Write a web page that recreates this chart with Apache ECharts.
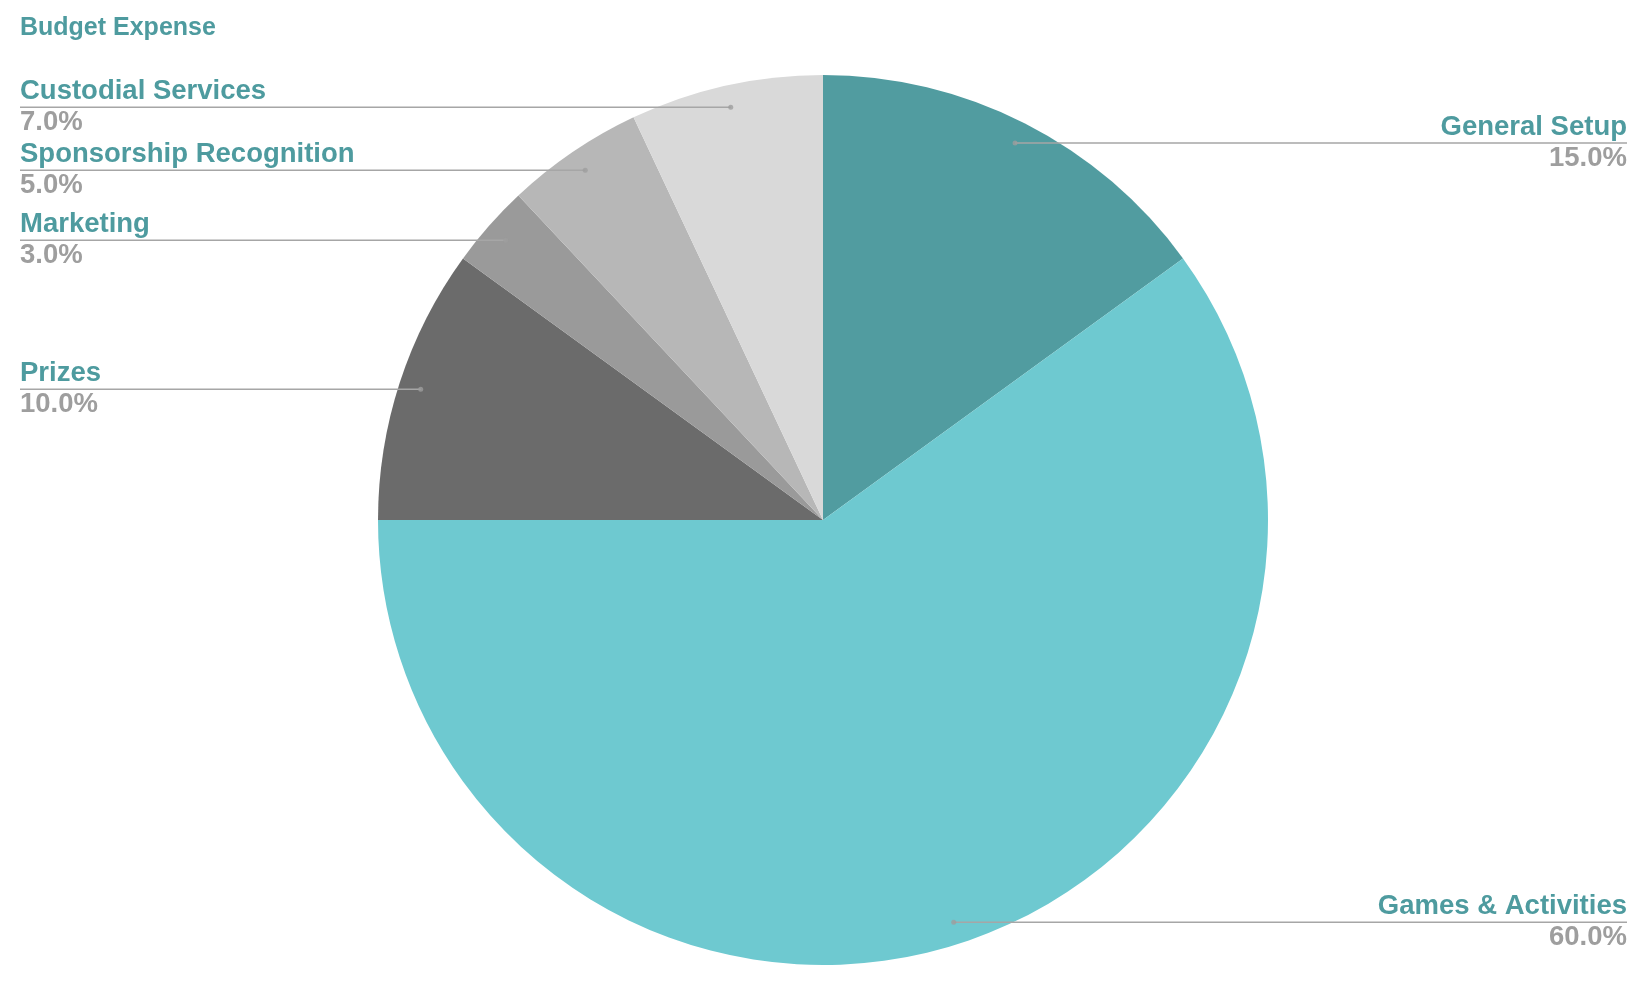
<!DOCTYPE html>
<html>
<head>
<meta charset="utf-8">
<script src="https://cdn.jsdelivr.net/npm/echarts@6/dist/echarts.min.js"></script>
<style>
html,body{margin:0;padding:0;background:#fff;}
#chart{width:1642px;height:988px;}
</style>
</head>
<body>
<div id="chart"></div>
<script>
// ---- data ----
const titleText = 'Budget Expense';
const categories = ['General Setup', 'Games & Activities', 'Prizes', 'Marketing', 'Sponsorship Recognition', 'Custodial Services'];
const values = [15, 60, 10, 3, 5, 7];
const palette = ['#519ca0', '#6ec9d0', '#6b6b6b', '#9a9a9a', '#b7b7b7', '#d9d9d9'];

const center = [823, 520];
const R = 445;
const labelR = 423;
const viewLeft = 20, viewRight = 15;

const pieData = categories.map((c, i) => ({ name: c, value: values[i], itemStyle: { color: palette[i] } }));
const total = values.reduce((a, b) => a + b, 0);
let cum = 0;
const dotData = values.map(v => { const mid = (cum + v / 2) / total * 100; cum += v; return [labelR / R, mid]; });

const chart = echarts.init(document.getElementById('chart'), null, { renderer: 'canvas' });
chart.setOption({
  animation: false,
  backgroundColor: '#ffffff',
  title: {
    text: titleText, left: 20, top: 16, padding: 0,
    textStyle: { color: '#4e9b9f', fontSize: 25, fontWeight: 'bold', fontFamily: 'Liberation Sans, Arial, sans-serif' }
  },
  polar: { center: center, radius: R },
  angleAxis: { type: 'value', min: 0, max: 100, startAngle: 90, clockwise: true, show: false },
  radiusAxis: { type: 'value', min: 0, max: 1, show: false },
  series: [
    {
      type: 'pie', center: center, radius: [0, R], startAngle: 90, clockwise: true,
      data: pieData, label: { show: false }, labelLine: { show: false },
      silent: true, emphasis: { disabled: true }, itemStyle: { borderWidth: 0 }, z: 1
    },
    {
      type: 'pie', left: viewLeft, right: viewRight, top: 0, bottom: 0,
      center: [center[0] - viewLeft, center[1]], radius: [0, labelR], startAngle: 90, clockwise: true,
      data: categories.map((c, i) => ({ name: c, value: values[i] })),
      itemStyle: { color: 'rgba(0,0,0,0)', borderWidth: 0 },
      silent: true, emphasis: { disabled: true }, z: 2,
      avoidLabelOverlap: false,
      label: {
        show: true, position: 'outside', alignTo: 'edge', edgeDistance: 0,
        formatter: p => '{n|' + p.name + '}\n{p|' + p.percent.toFixed(1) + '%}',
        rich: {
          n: { color: '#4e9b9f', fontSize: 27.5, fontWeight: 'bold', lineHeight: 31, fontFamily: 'Liberation Sans, Arial, sans-serif' },
          p: { color: '#9e9e9e', fontSize: 27.5, fontWeight: 'bold', lineHeight: 31, fontFamily: 'Liberation Sans, Arial, sans-serif' }
        }
      },
      labelLine: { show: true, length: 0, length2: 10, minTurnAngle: null, lineStyle: { color: '#a6a6a6', width: 1.5 } },
      labelLayout: function (p) {
        const pts = p.labelLinePoints;
        if (!pts) return {};
        const s = pts[0];
        const isLeft = pts[2][0] < s[0];
        const farX = isLeft ? p.labelRect.x : p.labelRect.x + p.labelRect.width;
        return { labelLinePoints: [[s[0], s[1]], [s[0], s[1]], [farX, s[1]]] };
      }
    },
    {
      type: 'scatter', coordinateSystem: 'polar', data: dotData,
      symbol: 'circle', symbolSize: 5, itemStyle: { color: '#9e9e9e' }, silent: true, z: 3
    }
  ]
});
</script>
</body>
</html>
